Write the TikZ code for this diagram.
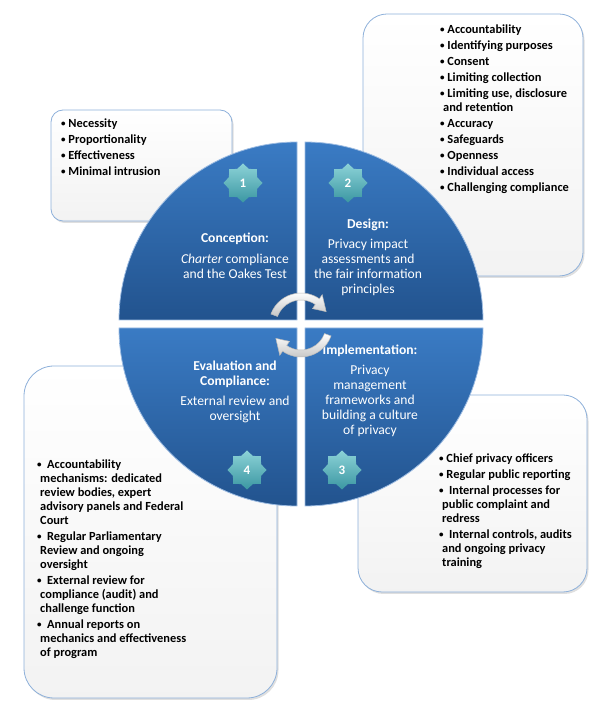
\documentclass[tikz,border=0pt]{standalone}
\usepackage{fontspec}
\setmainfont{Carlito}
\usetikzlibrary{calc}
\usetikzlibrary{shapes.geometric}
\usetikzlibrary{shadows}

\definecolor{quadtop}{HTML}{3A7BC4}
\definecolor{quadbot}{HTML}{22538E}
\definecolor{quadedge}{HTML}{9DBCE2}
\definecolor{boxedge}{HTML}{8DB0DA}
\definecolor{startop}{HTML}{8CD2D7}
\definecolor{starbot}{HTML}{3B97A2}

\newcommand{\dotmark}{\raisebox{1pt}{\fontsize{9}{9}\selectfont\textbullet}}
\newcommand{\bul}{\dotmark\ }
\newcommand{\bulw}{\dotmark\hspace{5.5pt}}
\newcommand{\cont}{\hspace*{3pt}}

\begin{document}
\begin{tikzpicture}[x=1pt,y=1pt,
  infobox/.style={draw=boxedge, line width=0.8pt, top color=white, bottom color=gray!10,
    drop shadow={opacity=0.25, shadow xshift=1.5pt, shadow yshift=-2pt}},
  quad/.style={top color=quadtop, bottom color=quadbot, draw=quadedge, line width=0.8pt},
  badge/.style={star, star points=8, star point ratio=1.28, minimum size=39pt, inner sep=0pt,
    top color=startop, bottom color=starbot, text=white, font=\fontsize{13}{13}\selectfont\bfseries},
  quadtext/.style={text=white, align=center, inner sep=0pt, anchor=north, font=\fontsize{13.6}{15}\selectfont},
  listtext/.style={align=left, inner sep=0pt, anchor=north west, font=\fontsize{12.4}{14}\selectfont\bfseries},
  cycarrow/.style={top color=white, bottom color=gray!45, draw=gray!55, line width=0.5pt}]
\useasboundingbox (0,0) rectangle (600,710);

% boxes behind the circle
\draw [infobox, rounded corners=12pt] (51,489) rectangle (232,600);
\draw [infobox, rounded corners=24pt] (363,434) rectangle (583,696);
\draw [infobox, rounded corners=24pt] (358,118) rectangle (587,315);
\draw [infobox, rounded corners=30pt] (24,12) rectangle (277,344);

% four quarters
\draw [quad] (297,390) -- ++(-178,0) arc (180:90:178) -- cycle;
\draw [quad] (305,390) -- ++(0,178) arc (90:0:178) -- cycle;
\draw [quad] (305,382) -- ++(178,0) arc (0:-90:178) -- cycle;
\draw [quad] (297,382) -- ++(0,-178) arc (270:180:178) -- cycle;

\node (B1) at (243,527) [badge] {1};
\node (B2) at (348,527) [badge] {2};
\node (B3) at (342,240) [badge] {3};
\node (B4) at (247,240) [badge] {4};

\node (Q1) at (235,477) [quadtext] {\textbf{Conception:}\\[6pt] \textit{Charter} compliance\\ and the Oakes Test};
\node (Q2) at (368,491) [quadtext] {\textbf{Design:}\\[5pt] Privacy impact\\ assessments and\\ the fair information\\ principles};
\node (Q3) at (370,365) [quadtext] {\textbf{Implementation:}\\[5pt] Privacy\\ management\\ frameworks and\\ building a culture\\ of privacy};
\node (Q4) at (235,349) [quadtext] {\textbf{Evaluation and}\\ \textbf{Compliance:}\\[5pt] External review and\\ oversight};

% bullet lists
\node (L1) at (61,591) [listtext] {\bul Necessity\\[2pt] \bul Proportionality\\[2pt] \bul Effectiveness\\[2pt] \bul Minimal intrusion};
\node (L2) at (440,685) [listtext] {\bul Accountability\\[2pt] \bul Identifying purposes\\[2pt] \bul Consent\\[2pt]
  \bul Limiting collection\\[2pt] \bul Limiting use, disclosure\\ \cont and retention\\[2pt] \bul Accuracy\\[2pt]
  \bul Safeguards\\[2pt] \bul Openness\\[2pt] \bul Individual access\\[2pt] \bul Challenging compliance};
\node (L3) at (439,256) [listtext] {\bul Chief privacy officers\\[2pt] \bul Regular public reporting\\[2pt]
  \bulw Internal processes for\\ \cont public complaint and\\ \cont redress\\[2pt]
  \bulw Internal controls, audits\\ \cont and ongoing privacy\\ \cont training};
\node (L4) at (37,250) [listtext] {\bulw Accountability\\ \cont mechanisms: dedicated\\ \cont review bodies, expert\\ \cont advisory panels and Federal\\ \cont Court\\[2pt]
  \bulw Regular Parliamentary\\ \cont Review and ongoing\\ \cont oversight\\[2pt]
  \bulw External review for\\ \cont compliance (audit) and\\ \cont challenge function\\[2pt]
  \bulw Annual reports on\\ \cont mechanics and effectiveness\\ \cont of program};

% cycle arrows in the middle
\coordinate (hub) at (301,385);
\draw [cycarrow, shift={(hub)}] (160:32) arc (160:55:32) -- (55:37) -- (28:28.5) -- (55:20) -- (55:25) arc (55:160:25) -- cycle;
\draw [cycarrow, shift={(hub)}] (-20:32) arc (-20:-125:32) -- (-125:37) -- (-152:28.5) -- (-125:20) -- (-125:25) arc (-125:-20:25) -- cycle;
\end{tikzpicture}
\end{document}
